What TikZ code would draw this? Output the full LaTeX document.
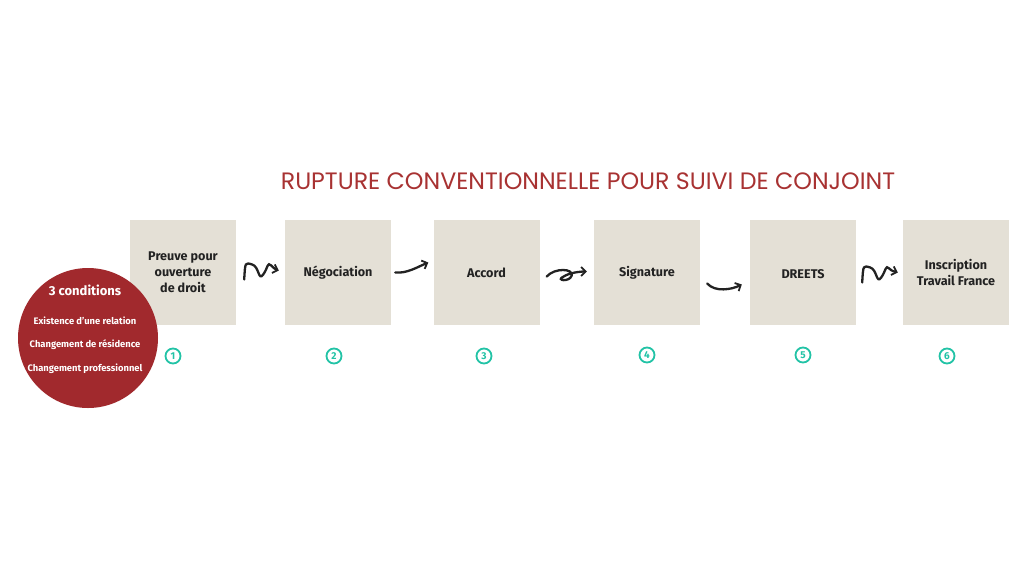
\documentclass[tikz,border=0pt]{standalone}
\usepackage{fontspec}
\setmainfont{Open Sans}
\newfontfamily\titlefont{Poppins}
\newfontfamily\boxfont{Fira Sans}
\usetikzlibrary{arrows.meta,calc}
\definecolor{boxbg}{HTML}{E4E0D6}
\definecolor{condred}{HTML}{A1292D}
\definecolor{titlered}{HTML}{A83232}
\definecolor{teal}{HTML}{22C3A6}
\definecolor{ink}{HTML}{222222}
\tikzset{
  stepbox/.style={fill=boxbg, minimum width=106pt, minimum height=105pt, inner sep=0pt, align=center,
    font=\boxfont\bfseries\fontsize{12.6}{16}\selectfont, text=ink},
  squig/.style={draw=ink, line width=2.3pt, line cap=round, -{Straight Barb[length=4.5pt,width=9pt,line width=1.8pt]}},
  numcirc/.style={circle, draw=teal, line width=1.8pt, minimum size=15pt, inner sep=0pt, text=teal,
    font=\boxfont\bfseries\fontsize{10}{10}\selectfont},
  condtext/.style={text=white, font=\boxfont\bfseries\fontsize{9.4}{11}\selectfont}
}
\begin{document}
\begin{tikzpicture}[x=1pt,y=-1pt]
\useasboundingbox (0,0) rectangle (1024,576);
\fill[white] (0,0) rectangle (1024,576);
\node[text=titlered, font=\titlefont\fontsize{23.7}{28}\selectfont] (title) at (588,181) {RUPTURE CONVENTIONNELLE POUR SUIVI DE CONJOINT};
\node[stepbox] (b1) at (183,272.5) {Preuve pour\\ouverture\\de droit};
\node[stepbox] (b2) at (338,272.5) {Négociation};
\node[stepbox] (b3) at (486.5,272.5) {Accord};
\node[stepbox] (b4) at (647,272.5) {Signature};
\node[stepbox, text depth=0pt] (b5) at (803,272.5) {\raisebox{-3pt}{DREETS}};
\node[stepbox] (b6) at (956,272.5) {\raisebox{-2pt}{\shortstack{Inscription\\Travail France}}};
\node[circle, fill=condred, minimum size=140pt, inner sep=0pt] (cond) at (88,338) {};
\node[condtext, font=\boxfont\bfseries\fontsize{13}{14}\selectfont] (c0) at (85,290) {3 conditions};
\node[condtext] (c1) at (85,321) {Existence d’une relation};
\node[condtext] (c2) at (85,345) {Changement de résidence};
\node[condtext] (c3) at (85,369) {Changement professionnel};
\node[numcirc] (n1) at (173,356) {1};
\node[numcirc] (n2) at (334,356) {2};
\node[numcirc] (n3) at (484,356) {3};
\node[numcirc] (n4) at (647,355) {4};
\node[numcirc] (n5) at (803,355) {5};
\node[numcirc] (n6) at (947,356) {6};
% squiggle arrows
\coordinate (a1s) at ($(b1.east)+(8,7)$);
\coordinate (a1e) at ($(b2.west)+(-6,-2)$);
\draw[squig] (a1s) .. controls +(1,-18) and +(-7,-2) .. ++(8,-15)
  .. controls +(7,2) and +(-5,7) .. ++(11,10)
  .. controls +(5,-7) and +(-4,-4) .. ++(8,-9)
  .. controls +(3,3) and +(-3,-1) .. (a1e);
\coordinate (a2s) at ($(b2.east)+(4,0)$);
\coordinate (a2e) at ($(b3.west)+(-5,-10)$);
\draw[squig] (a2s) .. controls +(12,1) and +(-12,5) .. (a2e);
\coordinate (a3s) at ($(b3.east)+(7,4)$);
\coordinate (a3e) at ($(b4.west)+(-7,-1)$);
\draw[squig] (a3s) .. controls +(8,-9) and +(2,-7) .. ++(25,-1)
  .. controls +(-2,7) and +(-9,4) .. ++(-8,1)
  .. controls +(6,-4) and +(-6,0) .. (a3e);
\coordinate (a4s) at ($(b4.east)+(7,11)$);
\coordinate (a4e) at ($(b5.west)+(-8,12)$);
\draw[squig] (a4s) .. controls +(8,9) and +(-10,5) .. (a4e);
\coordinate (a5s) at ($(b5.east)+(6,10)$);
\coordinate (a5e) at ($(b6.west)+(-5,0)$);
\draw[squig] (a5s) .. controls +(1,-18) and +(-7,-2) .. ++(8,-15)
  .. controls +(7,2) and +(-5,7) .. ++(11,10)
  .. controls +(5,-7) and +(-4,-4) .. ++(8,-9)
  .. controls +(3,3) and +(-3,-1) .. (a5e);
\end{tikzpicture}
\end{document}
